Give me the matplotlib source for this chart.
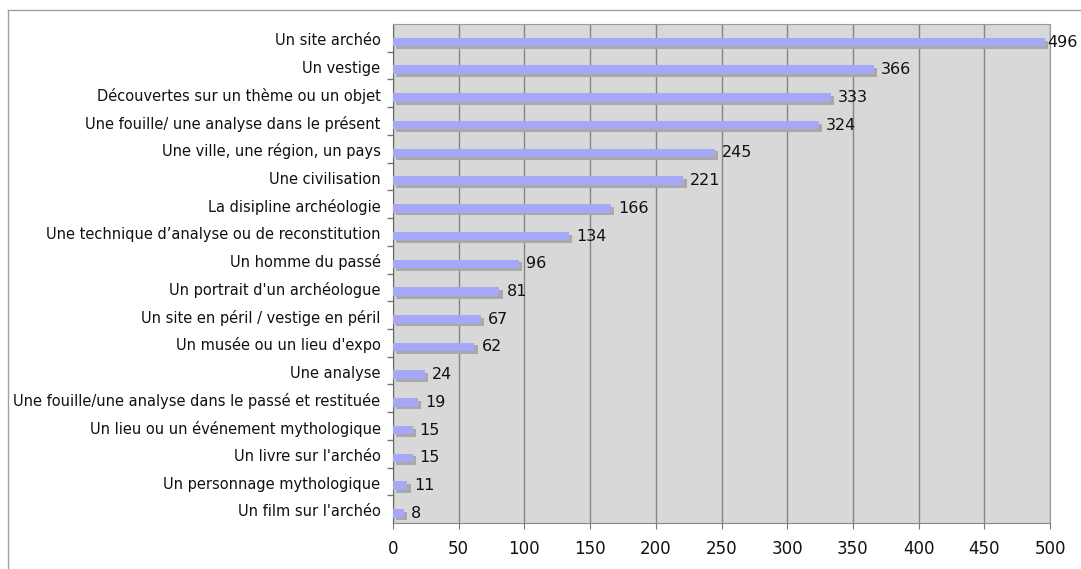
import matplotlib
matplotlib.use("Agg")
import matplotlib.pyplot as plt
import matplotlib.transforms as mtransforms
from matplotlib.lines import Line2D

categories = [
    "Un site archéo",
    "Un vestige",
    "Découvertes sur un thème ou un objet",
    "Une fouille/ une analyse dans le présent",
    "Une ville, une région, un pays",
    "Une civilisation",
    "La disipline archéologie",
    "Une technique d\u2019analyse ou de reconstitution",
    "Un homme du passé",
    "Un portrait d'un archéologue",
    "Un site en péril / vestige en péril",
    "Un musée ou un lieu d'expo",
    "Une analyse",
    "Une fouille/une analyse dans le passé et restituée",
    "Un lieu ou un événement mythologique",
    "Un livre sur l'archéo",
    "Un personnage mythologique",
    "Un film sur l'archéo",
]
values = [496, 366, 333, 324, 245, 221, 166, 134, 96, 81, 67, 62, 24, 19, 15, 15, 11, 8]
x_ticks = [0, 50, 100, 150, 200, 250, 300, 350, 400, 450, 500]

BAR = "#a7a7f7"
SHADOW = "#a9a9a9"
BG = "#d8d8d8"

fig = plt.figure(figsize=(10.81, 5.69), dpi=100)
ax = fig.add_axes([393 / 1081, 1 - 523 / 569, 657 / 1081, 499 / 569])
ax.set_facecolor(BG)

pos = list(range(len(categories)))
ax.set_xlim(0, 500)
ax.set_ylim(len(categories) - 0.5 - 0.15, -0.65)

# vertical grid
ax.set_xticks(x_ticks)
ax.grid(axis="x", color="#858585", linewidth=1.0)
ax.set_axisbelow(True)

# bars with a small drop shadow
shadow = mtransforms.offset_copy(ax.transData, fig=fig, x=2.4, y=-2.0, units="points")
ax.barh(pos, values, height=0.31, color=SHADOW, transform=shadow, zorder=2)
ax.barh(pos, values, height=0.31, color=BAR, zorder=3)

# value labels; squeeze the gap when the label would run off the figure
for p, v in zip(pos, values):
    gap = 5 if v < 450 else 1.5
    ax.annotate(str(v), (v, p), xytext=(gap, 0), textcoords="offset points",
                va="center", ha="left", fontsize=11.5, color="#111111", zorder=4,
                annotation_clip=False)

ax.set_yticks(pos)
ax.set_yticklabels(categories, fontsize=10.5, color="#111111")
ax.tick_params(axis="y", length=0, pad=9)
up = mtransforms.ScaledTranslation(0, 3 / 100, fig.dpi_scale_trans)
for lab in ax.get_yticklabels():
    lab.set_transform(lab.get_transform() + up)

ax.set_yticks([p + 0.35 for p in pos[:-1]], minor=True)
ax.tick_params(axis="y", which="minor", length=4, color="#777777", width=1)
ax.tick_params(axis="x", length=4, color="#777777", labelsize=12, pad=8, labelcolor="#111111")

for side in ["top", "right"]:
    ax.spines[side].set_color("#9a9a9a")
ax.spines["left"].set_color("#666666")
ax.spines["bottom"].set_color("#888888")

# outer frame (left and top only)
fig.add_artist(Line2D([8 / 1081, 8 / 1081], [0, 1 - 10 / 569], transform=fig.transFigure,
                      color="#a0a0a0", linewidth=1))
fig.add_artist(Line2D([8 / 1081, 1], [1 - 10 / 569, 1 - 10 / 569], transform=fig.transFigure,
                      color="#a0a0a0", linewidth=1))

fig.savefig("out.png", dpi=100)
